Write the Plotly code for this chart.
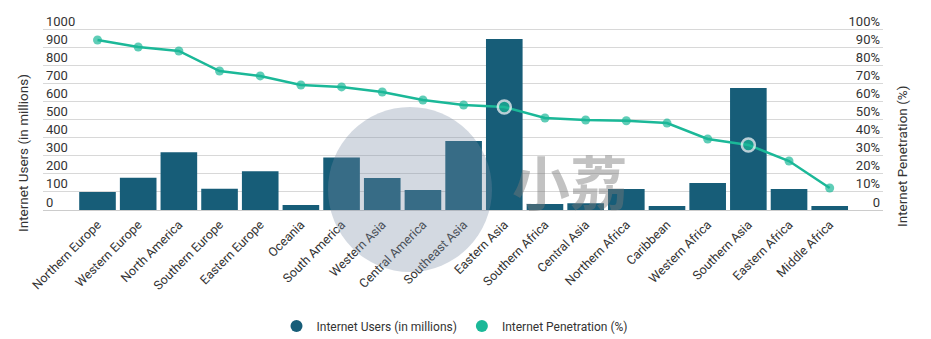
import plotly.graph_objects as go

regions = ["Northern Europe", "Western Europe", "North America", "Southern Europe",
           "Eastern Europe", "Oceania", "South America", "Western Asia",
           "Central America", "Southeast Asia", "Eastern Asia", "Southern Africa",
           "Central Asia", "Northern Africa", "Caribbean", "Western Africa",
           "Southern Asia", "Eastern Africa", "Middle Africa"]
users_millions = [100, 178, 320, 117, 215, 27, 290, 177, 110, 382,
                  946, 33, 38, 116, 22, 149, 675, 116, 22]
penetration_pct = [94.1, 90.2, 88.0, 76.9, 74.2, 69.2, 68.1, 65.3, 60.9, 58.1,
                   57.0, 50.9, 49.8, 49.4, 48.1, 39.3, 36.0, 27.1, 12.2]
highlighted = ["Eastern Asia", "Southern Asia"]

left_ticks = list(range(0, 1001, 100))
right_ticks = list(range(0, 101, 10))
right_ticktext = ["0"] + [f"{v}%" for v in right_ticks[1:]]

BAR = "#175d78"
LINE = "#1bb898"
TXT = "#333333"
FONT = "Roboto"

# layout geometry (pixels)
PL, PR, PT, PB = 43, 883, 12, 210
W, H = 931, 339
UNIT = (210 - 29.3) / 1000.0  # px per million users


def px(xp):
    return (xp - PL) / (PR - PL)


def py(yp):
    return (PB - yp) / (PB - PT)


ymax_left = (PB - PT) / UNIT
ymax_right = ymax_left / 10.0

marker_sizes = [13 if r in highlighted else 9 for r in regions]
marker_lcol = ["white" if r in highlighted else LINE for r in regions]
marker_lw = [2.5 if r in highlighted else 0 for r in regions]

fig = go.Figure()
fig.add_trace(go.Bar(x=regions, y=users_millions, marker_color=BAR,
                     marker_line_width=0, showlegend=False, yaxis="y"))
fig.add_trace(go.Scatter(x=regions, y=penetration_pct, mode="lines+markers",
                         line=dict(color=LINE, width=2.5),
                         marker=dict(size=marker_sizes, color=LINE,
                                     line=dict(color=marker_lcol, width=marker_lw)),
                         showlegend=False, yaxis="y2"))
# legend entries with circle symbols
fig.add_trace(go.Scatter(x=[None], y=[None], mode="markers", name="Internet Users (in millions)",
                         marker=dict(size=15, color=BAR, symbol="circle")))
fig.add_trace(go.Scatter(x=[None], y=[None], mode="markers", name="Internet Penetration (%)",
                         marker=dict(size=15, color=LINE, symbol="circle")))

fig.update_layout(
    width=W, height=H,
    margin=dict(l=PL, r=W - PR, t=PT, b=H - PB, autoexpand=False),
    paper_bgcolor="white", plot_bgcolor="rgba(0,0,0,0)",
    font=dict(family=FONT, color=TXT, size=13),
    bargap=0.1,
    xaxis=dict(type="category", range=[-1.34, 19.31], tickangle=-45,
               tickfont=dict(size=12.5, color=TXT), showgrid=False, ticks="",
               ticklabelstandoff=4,
               showline=False, zeroline=False, automargin=False),
    yaxis=dict(range=[0, ymax_left], tickvals=left_ticks, ticklabelposition="inside",
               ticklabelshift=-8, ticklabelstandoff=0, automargin=False,
               showgrid=True, gridcolor="#d8d8d8", gridwidth=1,
               zeroline=True, zerolinecolor="#cccccc", zerolinewidth=1,
               tickfont=dict(size=13, color=TXT), showline=False, ticks=""),
    yaxis2=dict(range=[0, ymax_right], tickvals=right_ticks, ticktext=right_ticktext,
                overlaying="y", side="right", ticklabelposition="inside",
                ticklabelshift=-8, ticklabelstandoff=0, showgrid=False, automargin=False,
                zeroline=False, tickfont=dict(size=13, color=TXT), ticks=""),
    legend=dict(orientation="h", x=px(455), xanchor="center", y=py(326), yanchor="middle",
                font=dict(size=12, color=TXT), itemsizing="constant",
                itemwidth=30, tracegroupgap=0),
    annotations=[
        dict(text="Internet Users (in millions)", xref="paper", yref="paper",
             x=px(23), y=py(153), textangle=-90,
             showarrow=False, font=dict(size=13.5, color=TXT),
             xanchor="center", yanchor="middle"),
        dict(text="Internet Penetration (%)", xref="paper", yref="paper",
             x=px(902), y=py(156), textangle=-90,
             showarrow=False, font=dict(size=13.5, color=TXT),
             xanchor="center", yanchor="middle"),
        dict(text="<b>小荔</b>", xref="paper", yref="paper",
             x=px(570), y=py(180), showarrow=False,
             font=dict(size=58, color="rgba(120,120,120,0.45)", family="Noto Sans CJK SC"),
             xanchor="center", yanchor="middle"),
    ],
    shapes=[
        dict(type="circle", xref="paper", yref="paper", layer="above",
             x0=px(328), x1=px(492), y0=py(272), y1=py(107),
             fillcolor="rgba(120,140,165,0.33)", line=dict(width=0)),
    ],
)

fig.write_html("out.html")
